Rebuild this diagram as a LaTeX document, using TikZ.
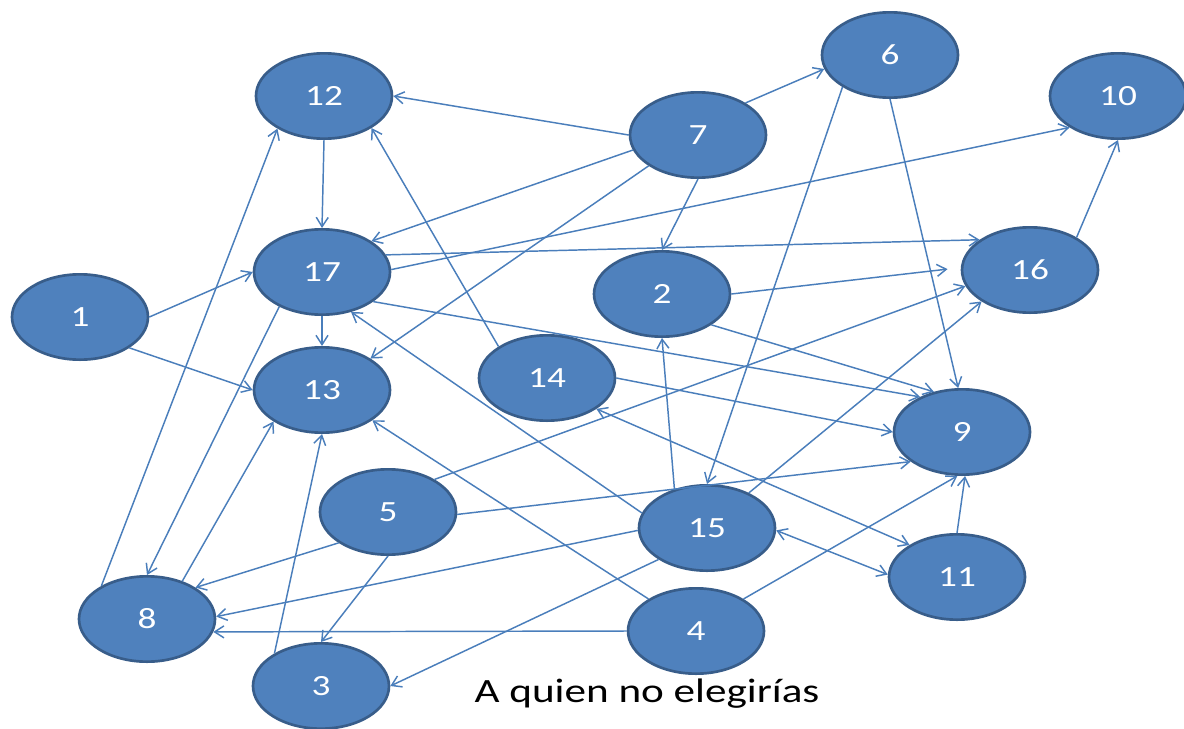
\documentclass[tikz,border=0pt]{standalone}
\usepackage{fontspec}
\setmainfont{Carlito}
\usepackage{graphicx}
\usetikzlibrary{arrows.meta,shapes.geometric}

\definecolor{nodeblue}{HTML}{4F81BD}
\definecolor{nodeline}{HTML}{385D8A}
\definecolor{linkblue}{HTML}{4A7EBB}
\newcommand{\wide}[1]{\scalebox{1.27}[1]{#1}}

\tikzset{
	person/.style={ellipse, draw=nodeline, line width=2pt, fill=nodeblue, text=white,
		minimum width=102pt, minimum height=64pt, inner sep=0pt,
		font=\fontsize{22}{22}\selectfont},
	link/.style={color=linkblue, line width=1.1pt}
}

\begin{document}
\begin{tikzpicture}[x=0.75pt, y=-0.75pt, ->, >={Straight Barb[length=7pt,width=9pt]}]
		\useasboundingbox (0,0) rectangle (1184,728);

		\node[person] (n12) at (324, 96)  {\wide{12}};
		\node[person] (n6)  at (890, 55)  {\wide{6}};
		\node[person] (n10) at (1118, 96) {\wide{10}};
		\node[person] (n7)  at (698, 135) {\wide{7}};
		\node[person] (n17) at (322, 272) {\wide{17}};
		\node[person] (n16) at (1030, 270) {\wide{16}};
		\node[person] (n1)  at (80, 317)  {\wide{1}};
		\node[person] (n2)  at (662, 294) {\wide{2}};
		\node[person] (n13) at (322, 390) {\wide{13}};
		\node[person] (n14) at (547, 378) {\wide{14}};
		\node[person] (n9)  at (962, 432) {\wide{9}};
		\node[person] (n5)  at (388, 512) {\wide{5}};
		\node[person] (n15) at (707, 528) {\wide{15}};
		\node[person] (n11) at (957, 577) {\wide{11}};
		\node[person] (n8)  at (147, 619) {\wide{8}};
		\node[person] (n4)  at (696, 631) {\wide{4}};
		\node[person] (n3)  at (321, 686) {\wide{3}};

		\node[font=\fontsize{25.5}{26}\selectfont] (caption) at (647, 694) {\wide{A quien no elegirías}};

		% top row
		\path[link]
			(n7.180) edge (n12.0)
			(n7.34) edge (n6.192)
			(n7.193) edge (n17.32)
			(n7.212) edge (n13.33)
			(n7.270) edge (n2.90)
			(n12.270) edge (n17.90)
			(n6.270) edge (n9.95)
			(n6.214) edge (n15.90)
			(n16.35) edge (n10.270);
		% middle
		\path[link]
			(n17.270) edge (n13.90)
			(n17.15) edge (n16.149)
			(n17.2) edge (n10.213)
			(n17.330) edge (n9.140)
			(n17.219) edge (n8.90)
			(n1.0) edge (n17.180)
			(n1.328) edge (n13.180)
			(n2.0) edge[shorten >=10pt] (n16.178)
			(n2.328) edge (n9.125)
			(n14.147) edge (n12.326)
			(n14.0) edge (n9.180);
		% bottom
		\path[link]
			(n5.35) edge (n16.194)
			(n5.358) edge (n9.210)
			(n5.212) edge (n8.33)
			(n5.270) edge (n3.90)
			(n15.130) edge (n2.270)
			(n15.40) edge (n16.213)
			(n15.167) edge (n17.306)
			(n15.182) edge (n8.2)
			(n15.213) edge (n3.0)
			(n15.358) edge[<->] (n11.178)
			(n4.146) edge (n13.329)
			(n4.34) edge (n9.264)
			(n4.180) edge (n8.349)
			(n8.144) edge (n12.215)
			(n8.47) edge (n13.213)
			(n3.145) edge (n13.270)
			(n11.146) edge[<->] (n14.328)
			(n11.90) edge (n9.274);
	\end{tikzpicture}
\end{document}
